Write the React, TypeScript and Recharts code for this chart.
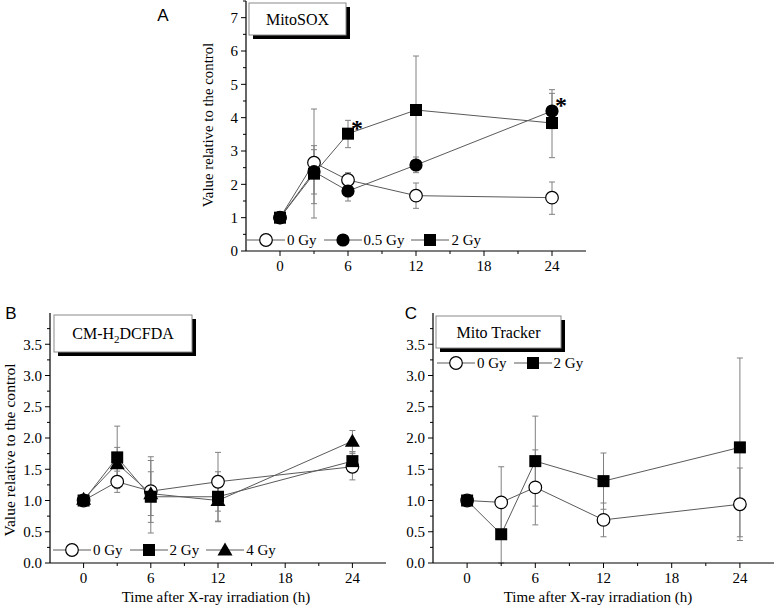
import React from 'react';
import { LineChart, Line, XAxis, YAxis, ErrorBar, Legend, LabelList } from 'recharts';

const serif = "'Liberation Serif', 'Times New Roman', serif";
const sans = "'Liberation Sans', Arial, sans-serif";
const lineGrey = '#5a5a5a';
const errGrey = '#808080';

// x axis: hours after irradiation
const hours = [0, 3, 6, 12, 24];
const xTicks = [0, 3, 6, 9, 12, 15, 18, 21, 24];
const xLabels = [0, 6, 12, 18, 24];

// A: MitoSOX
const sox0Gy = [1.0, 2.65, 2.13, 1.66, 1.6];
const sox0GyErr = [[0.05, 0.05], [0.94, 0.51], [0.2, 0.22], [0.38, 0.38], [0.5, 0.47]];
const sox05Gy = [1.0, 2.38, 1.8, 2.58, 4.2];
const sox05GyErr = [[0.05, 0.05], [0.96, 0.66], [0.3, 0.3], [0.23, 0.24], [0.53, 0.53]];
const sox2Gy = [1.0, 2.32, 3.52, 4.23, 3.84];
const sox2GyErr = [[0.05, 0.05], [1.33, 1.94], [0.42, 0.4], [1.62, 1.62], [1.04, 1.0]];
const sox05GyStars = ['', '', '', '', '*'];
const sox2GyStars = ['', '', '*', '', ''];
const soxYTicks = [0, 0.5, 1, 1.5, 2, 2.5, 3, 3.5, 4, 4.5, 5, 5.5, 6, 6.5, 7, 7.5];
const soxYLabels = [0, 1, 2, 3, 4, 5, 6, 7];

// B: CM-H2DCFDA
const dcf0Gy = [1.0, 1.3, 1.15, 1.3, 1.54];
const dcf0GyErr = [[0.03, 0.03], [0.17, 0.17], [0.5, 0.55], [0.47, 0.47], [0.21, 0.21]];
const dcf2Gy = [1.0, 1.69, 1.06, 1.06, 1.63];
const dcf2GyErr = [[0.03, 0.03], [0.5, 0.5], [0.58, 0.58], [0.4, 0.4], [0.15, 0.15]];
const dcf4Gy = [1.02, 1.59, 1.11, 1.0, 1.95];
const dcf4GyErr = [[0.03, 0.03], [0.26, 0.26], [0.35, 0.35], [0.33, 0.33], [0.17, 0.17]];

// C: Mito Tracker
const mt0Gy = [1.0, 0.97, 1.21, 0.69, 0.94];
const mt0GyErr = [[0.03, 0.03], [0.57, 0.57], [0.6, 0.6], [0.27, 0.27], [0.58, 0.58]];
const mt2Gy = [1.0, 0.46, 1.63, 1.31, 1.85];
const mt2GyErr = [[0.03, 0.03], [0.46, 0.46], [0.72, 0.72], [0.45, 0.45], [1.43, 1.43]];

const smallYTicks = [0, 0.25, 0.5, 0.75, 1, 1.25, 1.5, 1.75, 2, 2.25, 2.5, 2.75, 3, 3.25, 3.5, 3.75];
const smallYLabels = [0, 0.5, 1, 1.5, 2, 2.5, 3, 3.5];

type MarkerKind = 'open' | 'dot' | 'square' | 'triangle';

interface Series {
  name: string;
  kind: MarkerKind;
  values: number[];
  errs: number[][];
  stars?: string[];
}

const rows = (s: Series) =>
  hours.map((h, i) => ({ h, v: s.values[i], err: s.errs[i], sig: s.stars ? s.stars[i] : '' }));

function Marker({ kind, cx, cy }: { kind: MarkerKind; cx: number; cy: number }) {
  if (kind === 'open') return <circle cx={cx} cy={cy} r={6.3} fill="#fff" stroke="#000" strokeWidth={1.2} />;
  if (kind === 'dot') return <circle cx={cx} cy={cy} r={6.6} fill="#000" />;
  if (kind === 'square') return <rect x={cx - 6} y={cy - 6} width={12} height={12} fill="#000" />;
  return <polygon points={`${cx},${cy - 7.5} ${cx - 7.5},${cy + 5.5} ${cx + 7.5},${cy + 5.5}`} fill="#000" />;
}

const XTick = (props: any) => {
  const { x, y, payload } = props;
  const major = xLabels.includes(payload.value);
  return (
    <g>
      <line x1={x} x2={x} y1={y} y2={y + (major ? 5 : 3)} stroke="#000" />
      {major && (
        <text x={x} y={y + 15} dy="0.35em" textAnchor="middle" fontFamily={serif} fontSize={15} fill="#000">
          {payload.value}
        </text>
      )}
    </g>
  );
};

const makeYTick = (labels: number[], digits: number) => (props: any) => {
  const { x, y, payload } = props;
  const major = labels.includes(payload.value);
  return (
    <g>
      <line x1={x} x2={x - (major ? 5 : 3)} y1={y} y2={y} stroke="#000" />
      {major && (
        <text x={x - 8} y={y} dy="0.35em" textAnchor="end" fontFamily={serif} fontSize={15} fill="#000">
          {payload.value.toFixed(digits)}
        </text>
      )}
    </g>
  );
};

const Star = (props: any) => {
  const { x, y, value } = props;
  if (!value) return null;
  return (
    <text x={x + 9} y={y + 2} textAnchor="middle" fontFamily={serif} fontSize={24} fontWeight="bold" fill="#000">
      {value}
    </text>
  );
};

const legendContent = (series: Series[]) => () => (
  <div style={{ display: 'flex', alignItems: 'center', fontFamily: serif, fontSize: 15, lineHeight: '18px', whiteSpace: 'nowrap' }}>
    {series.map((s, i) => (
      <div key={s.name} style={{ display: 'flex', alignItems: 'center', marginLeft: i ? 7 : 0 }}>
        <svg width={38} height={18} style={{ display: 'block' }}>
          <line x1={0} x2={38} y1={9} y2={9} stroke={lineGrey} />
          <Marker kind={s.kind} cx={19} cy={9} />
        </svg>
        <span style={{ marginLeft: 2 }}>{s.name}</span>
      </div>
    ))}
  </div>
);

interface PanelProps {
  left: number;
  top: number;
  width: number;
  height: number;
  yAxisWidth: number;
  marginRight: number;
  yDomain: [number, number];
  yTicks: number[];
  yLabels: number[];
  digits: number;
  series: Series[];
  legendLeft: number;
  legendTop: number;
}

function Panel(p: PanelProps) {
  return (
    <div style={{ position: 'absolute', left: p.left, top: p.top }}>
      <LineChart width={p.width} height={p.height} margin={{ top: 1, right: p.marginRight, bottom: 0, left: 0 }}>
        <XAxis
          dataKey="h"
          type="number"
          domain={[-3, 27]}
          ticks={xTicks}
          interval={0}
          height={30}
          tickSize={0}
          tickMargin={0}
          tickLine={false}
          axisLine={{ stroke: '#000', strokeWidth: 1.2 }}
          tick={XTick}
        />
        <YAxis
          type="number"
          domain={p.yDomain}
          ticks={p.yTicks}
          interval={0}
          width={p.yAxisWidth}
          tickSize={0}
          tickMargin={0}
          tickLine={false}
          axisLine={{ stroke: '#000', strokeWidth: 1.2 }}
          tick={makeYTick(p.yLabels, p.digits)}
        />
        <Legend
          layout="horizontal"
          verticalAlign="middle"
          align="center"
          wrapperStyle={{ left: p.legendLeft, top: p.legendTop, width: 'auto', height: 18 }}
          content={legendContent(p.series)}
        />
        {p.series.map((s) => (
          <Line
            key={s.name}
            name={s.name}
            data={rows(s)}
            dataKey="v"
            type="linear"
            stroke={lineGrey}
            strokeWidth={1}
            isAnimationActive={false}
            dot={(d: any) => <Marker key={`${s.name}-${d.index}`} kind={s.kind} cx={d.cx} cy={d.cy} />}
          >
            <ErrorBar dataKey="err" width={3} stroke={errGrey} strokeWidth={1} isAnimationActive={false} />
            {s.stars && <LabelList dataKey="sig" content={Star} />}
          </Line>
        ))}
      </LineChart>
    </div>
  );
}

function TitleBox({ x, y, w, h, children }: { x: number; y: number; w: number; h: number; children: React.ReactNode }) {
  return (
    <g>
      <rect x={x + 4} y={y + 4} width={w} height={h} fill="#000" />
      <rect x={x} y={y} width={w} height={h} fill="#fff" stroke="#8a8a8a" strokeWidth={1} />
      <text x={x + w / 2} y={y + h / 2} dy="0.35em" textAnchor="middle" fontFamily={serif} fontSize={16} fill="#000">
        {children}
      </text>
    </g>
  );
}

const soxSeries: Series[] = [
  { name: '0 Gy', kind: 'open', values: sox0Gy, errs: sox0GyErr },
  { name: '0.5 Gy', kind: 'dot', values: sox05Gy, errs: sox05GyErr, stars: sox05GyStars },
  { name: '2 Gy', kind: 'square', values: sox2Gy, errs: sox2GyErr, stars: sox2GyStars },
];
const dcfSeries: Series[] = [
  { name: '0 Gy', kind: 'open', values: dcf0Gy, errs: dcf0GyErr },
  { name: '2 Gy', kind: 'square', values: dcf2Gy, errs: dcf2GyErr },
  { name: '4 Gy', kind: 'triangle', values: dcf4Gy, errs: dcf4GyErr },
];
const mtSeries: Series[] = [
  { name: '0 Gy', kind: 'open', values: mt0Gy, errs: mt0GyErr },
  { name: '2 Gy', kind: 'square', values: mt2Gy, errs: mt2GyErr },
];

export default function App() {
  return (
    <div style={{ position: 'absolute', left: 0, top: 0, width: 776, height: 610, background: '#fff', overflow: 'hidden' }}>
      <Panel
        left={186}
        top={0}
        width={420}
        height={281}
        yAxisWidth={60}
        marginRight={20}
        yDomain={[0, 7.5]}
        yTicks={soxYTicks}
        yLabels={soxYLabels}
        digits={0}
        series={soxSeries}
        legendLeft={61}
        legendTop={231}
      />
      <Panel
        left={0}
        top={312}
        width={390}
        height={281}
        yAxisWidth={50}
        marginRight={4}
        yDomain={[0, 4]}
        yTicks={smallYTicks}
        yLabels={smallYLabels}
        digits={1}
        series={dcfSeries}
        legendLeft={53}
        legendTop={229}
      />
      <Panel
        left={383}
        top={312}
        width={393}
        height={281}
        yAxisWidth={50}
        marginRight={2}
        yDomain={[0, 4]}
        yTicks={smallYTicks}
        yLabels={smallYLabels}
        digits={1}
        series={mtSeries}
        legendLeft={54}
        legendTop={42}
      />
      <svg width={776} height={610} style={{ position: 'absolute', left: 0, top: 0, pointerEvents: 'none' }}>
        <text x={163} y={15} dy="0.35em" textAnchor="middle" fontFamily={sans} fontSize={17}>A</text>
        <text x={11} y={313} dy="0.35em" textAnchor="middle" fontFamily={sans} fontSize={17}>B</text>
        <text x={411} y={313} dy="0.35em" textAnchor="middle" fontFamily={sans} fontSize={17}>C</text>

        <TitleBox x={249} y={3} w={97} h={32}>MitoSOX</TitleBox>
        <TitleBox x={54} y={315} w={138} h={37}>
          <tspan>CM-H</tspan>
          <tspan dy={4} fontSize={11}>2</tspan>
          <tspan dy={-4}>DCFDA</tspan>
        </TitleBox>
        <TitleBox x={436} y={316} w={125} h={32}>Mito Tracker</TitleBox>

        <text transform="translate(213,125) rotate(-90)" textAnchor="middle" fontFamily={serif} fontSize={14.8}>
          Value relative to the control
        </text>
        <text transform="translate(15,450) rotate(-90)" textAnchor="middle" fontFamily={serif} fontSize={15.6}>
          Value relative to the control
        </text>
        <text x={216} y={597} dy="0.35em" textAnchor="middle" fontFamily={serif} fontSize={15}>
          Time after X-ray irradiation (h)
        </text>
        <text x={598} y={597} dy="0.35em" textAnchor="middle" fontFamily={serif} fontSize={15}>
          Time after X-ray irradiation (h)
        </text>
      </svg>
    </div>
  );
}
